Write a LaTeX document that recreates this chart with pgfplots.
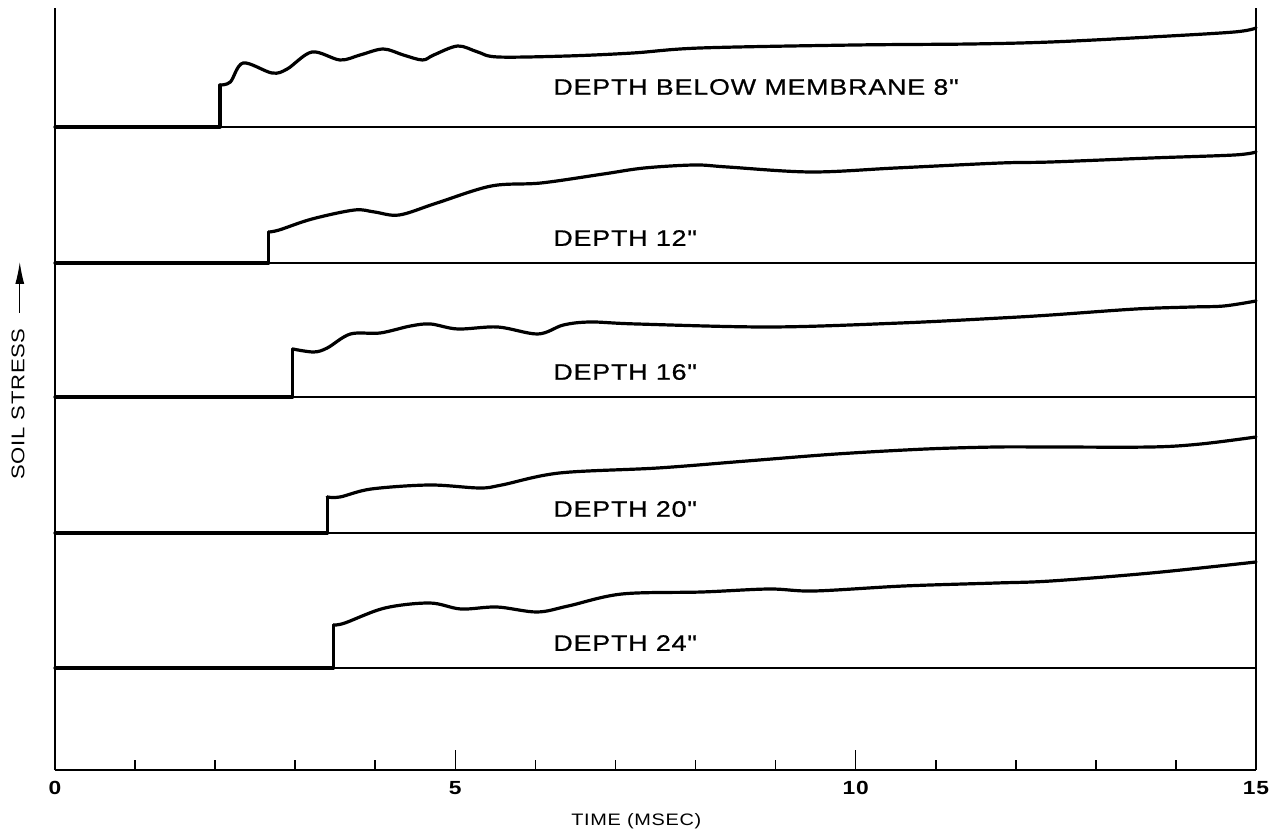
\documentclass[border=0pt]{standalone}
\usepackage{fontspec}
\usepackage{pgfplots}
\usepackage{pgfplotstable}
\pgfplotsset{compat=1.18}
\usetikzlibrary{arrows.meta}

% wide stencil-like lettering
\newfontfamily\lettering{Liberation Sans}[FakeStretch=1.2, LetterSpace=3.5, FakeBold=0.6, Ligatures=TeXOff]
\newfontfamily\numerals{Liberation Sans}[FakeStretch=1.2, LetterSpace=4, Ligatures=TeXOff]

\tikzset{
  trace/.style={black, line width=1.6bp, line join=round, line cap=round},
  base/.style={black, line width=0.8bp},
  lbl/.style={font=\lettering\fontsize{11.2bp}{13bp}\selectfont, anchor=west, inner sep=0pt},
}

% soil stress traces: time (msec), rise above the trace's own baseline
\pgfplotstableread{
t h
2.06 42
2.19 45
2.35 64
2.71 54
2.90 58
3.21 75
3.56 67
3.81 72
4.10 78
4.35 72
4.59 67
4.73 72
5.03 81
5.28 75
5.53 70
6.40 71
7.22 74
8.06 79
10.00 82
11.44 83
12.44 85
13.69 90
14.73 95
15.00 99
}\depthA

\pgfplotstableread{
t h
2.67 31
2.80 33
3.21 44
3.74 53
3.99 51
4.30 48
4.77 60
5.45 77
6.07 80
6.85 89
7.36 95
7.99 98
8.40 96
9.44 91
10.50 95
11.81 100
12.44 101
13.69 105
14.73 108
15.00 111
}\depthB

\pgfplotstableread{
t h
2.97 48
3.23 45
3.40 49
3.69 63
4.06 64
4.44 71
4.69 73
5.03 68
5.53 70
6.03 63
6.35 72
6.69 75
7.27 73
8.94 70
10.56 74
11.81 79
12.44 82
13.50 88
14.20 90
14.60 91
15.00 96
}\depthC

\pgfplotstableread{
t h
3.40 36
3.56 36
3.95 44
4.68 48
5.30 45
5.58 48
6.30 60
7.53 65
8.64 72
9.76 79
10.88 84
11.76 86
12.44 86
13.69 86
14.31 89
15.00 96
}\depthD

\pgfplotstableread{
t h
3.48 43
3.62 45
4.12 60
4.68 65
5.07 59
5.52 61
6.02 56
6.41 62
7.08 74
8.08 76
8.92 79
9.48 77
10.60 82
11.76 85
12.44 87
13.69 95
15.00 106
}\depthE

\begin{document}
\begin{tikzpicture}
\path[use as bounding box] (-27.5bp,-31bp) rectangle (611bp,385bp);
\begin{axis}[
  at={(0,0)}, anchor=origin,
  scale only axis, width=600.5bp, height=381bp,
  xmin=0, xmax=15, ymin=0, ymax=762,
  axis x line*=bottom, axis y line*=box,
  axis line style={line width=0.9bp, black},
  xtick={0,5,10,15},
  minor xtick={1,2,3,4,6,7,8,9,11,12,13,14},
  ytick=\empty,
  tick align=inside,
  major tick length=10bp, minor tick length=5bp,
  every tick/.style={black, line width=0.8bp},
  /pgf/number format/assume math mode=true,
  x tick label style={font=\numerals\bfseries\fontsize{9.5bp}{10bp}\selectfont, yshift=-2bp},
  xlabel={TIME (MSEC)},
  xlabel style={font=\numerals\fontsize{8.3bp}{9bp}\selectfont,
    at={(axis description cs:0.484,0)}, anchor=center, yshift=-25.5bp},
  clip=false,
]
% baselines
\addplot[base] coordinates {(0,643) (15,643)};
\addplot[base] coordinates {(0,507) (15,507)};
\addplot[base] coordinates {(0,373) (15,373)};
\addplot[base] coordinates {(0,237) (15,237)};
\addplot[base] coordinates {(0,102) (15,102)};

% 8 in.
\addplot[trace] coordinates {(0,643) (2.06,643) (2.06,685)};
\addplot[trace, smooth, tension=0.55] table[x=t, y expr=\thisrow{h}+643] {\depthA};
% 12 in.
\addplot[trace] coordinates {(0,507) (2.67,507) (2.67,538)};
\addplot[trace, smooth, tension=0.55] table[x=t, y expr=\thisrow{h}+507] {\depthB};
% 16 in.
\addplot[trace] coordinates {(0,373) (2.97,373) (2.97,421)};
\addplot[trace, smooth, tension=0.55] table[x=t, y expr=\thisrow{h}+373] {\depthC};
% 20 in.
\addplot[trace] coordinates {(0,237) (3.40,237) (3.40,273)};
\addplot[trace, smooth, tension=0.55] table[x=t, y expr=\thisrow{h}+237] {\depthD};
% 24 in.
\addplot[trace] coordinates {(0,102) (3.48,102) (3.48,145)};
\addplot[trace, smooth, tension=0.55] table[x=t, y expr=\thisrow{h}+102] {\depthE};

\node[lbl] at (axis cs:6.22,683) {DEPTH BELOW MEMBRANE 8"};
\node[lbl] at (axis cs:6.22,532) {DEPTH 12"};
\node[lbl] at (axis cs:6.22,398) {DEPTH 16"};
\node[lbl] at (axis cs:6.22,261) {DEPTH 20"};
\node[lbl] at (axis cs:6.22,127) {DEPTH 24"};

% vertical axis caption with arrow
\node[rotate=90, font=\numerals\fontsize{9.2bp}{10bp}\selectfont, inner sep=0pt]
  at (axis cs:-0.462,366) {SOIL STRESS};
\draw[line width=0.6bp, -{Latex[length=11bp,width=4.5bp]}]
  (axis cs:-0.44,457) -- (axis cs:-0.44,508);
\end{axis}
\end{tikzpicture}
\end{document}
